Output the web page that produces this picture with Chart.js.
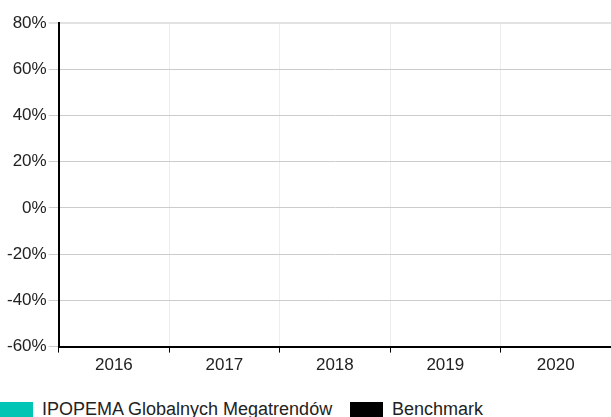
<!DOCTYPE html>
<html>
<head>
<meta charset="utf-8">
<script src="https://cdn.jsdelivr.net/npm/chart.js@4/dist/chart.umd.min.js"></script>
<style>
  html, body { margin: 0; padding: 0; background: #fff; overflow: hidden; }
  #wrap { position: relative; width: 611px; height: 417px; }
  #legend { position: absolute; left: 0; top: 399px; font: 18px "Liberation Sans", Arial, sans-serif; color: #222; white-space: nowrap; }
  .item { position: absolute; top: 0; display: flex; align-items: center; }
  .box { display: inline-block; width: 33px; height: 16px; margin-right: 9px; }
</style>
</head>
<body>
<div id="wrap">
  <canvas id="myChart" width="611" height="382"></canvas>
  <div id="legend"></div>
</div>
<script>
// Years on the x axis
const years = ["2016", "2017", "2018", "2019", "2020"];

// Series (no values shown in the picture)
const fundValues = [null, null, null, null, null];
const benchmarkValues = [null, null, null, null, null];

const seriesNames = ["IPOPEMA Globalnych Megatrendów", "Benchmark"];
const seriesColors = ["#00c4b4", "#000000"];

// y axis range
const yMin = -60;
const yMax = 80;
const yStep = 20;

const ctx = document.getElementById("myChart").getContext("2d");
new Chart(ctx, {
  type: "bar",
  data: {
    labels: years,
    datasets: [
      { label: seriesNames[0], data: fundValues, backgroundColor: seriesColors[0] },
      { label: seriesNames[1], data: benchmarkValues, backgroundColor: seriesColors[1] }
    ]
  },
  options: {
    responsive: false,
    animation: false,
    devicePixelRatio: 1,
    layout: { padding: { top: 23, right: 0, bottom: 3, left: 5 } },
    plugins: {
      legend: { display: false },
      tooltip: { enabled: false }
    },
    scales: {
      x: {
        grid: {
          offset: true,
          color: "#ededed",
          tickColor: "#000",
          tickLength: 6,
          lineWidth: 1
        },
        border: { color: "#000", width: 2 },
        ticks: {
          color: "#222",
          font: { family: "'Liberation Sans', Arial", size: 17 },
          padding: 3
        }
      },
      y: {
        min: yMin,
        max: yMax,
        grid: {
          color: c => c.tick && c.tick.value === yMax ? "#e2e2e2" : "#cccccc",
          lineWidth: c => c.tick && c.tick.value === yMax ? 2 : 1,
          tickLength: 10
        },
        border: { color: "#000", width: 2 },
        ticks: {
          stepSize: yStep,
          color: "#222",
          padding: 2,
          font: { family: "'Liberation Sans', Arial", size: 17 },
          callback: v => v + "%"
        }
      }
    }
  }
});

// Legend below the chart
const legend = document.getElementById("legend");
const legendX = [0, 350];
seriesNames.forEach((name, i) => {
  const item = document.createElement("div");
  item.className = "item";
  item.style.left = legendX[i] + "px";
  const box = document.createElement("span");
  box.className = "box";
  box.style.background = seriesColors[i];
  const txt = document.createElement("span");
  txt.textContent = name;
  item.appendChild(box);
  item.appendChild(txt);
  legend.appendChild(item);
});
</script>
</body>
</html>
